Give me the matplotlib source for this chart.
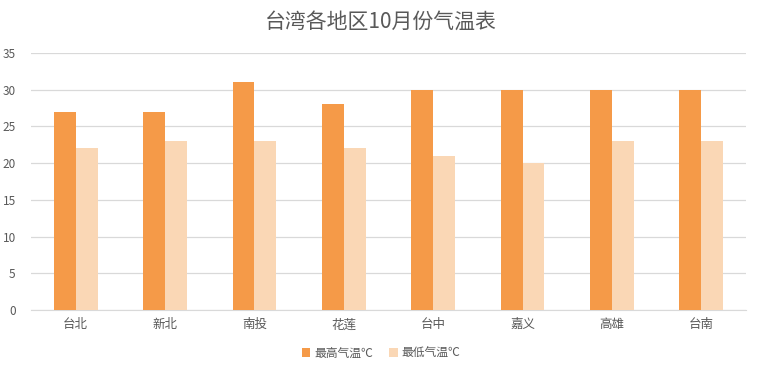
import matplotlib
matplotlib.use("Agg")
import matplotlib.pyplot as plt
import numpy as np

plt.rcParams['font.family'] = ['Noto Sans CJK SC', 'DejaVu Sans']

categories = ["台北", "新北", "南投", "花莲", "台中", "嘉义", "高雄", "台南"]
high = [27, 27, 31, 28, 30, 30, 30, 30]
low = [22, 23, 23, 22, 21, 20, 23, 23]
series_names = ["最高气温℃", "最低气温℃"]
title = "台湾各地区10月份气温表"

W, H = 762, 373
fig = plt.figure(figsize=(W/100, H/100), dpi=100)
ax = fig.add_axes([31/W, (H-310)/H, (746-31)/W, (310-53)/H])

x = np.arange(len(categories))
bw = 0.245
c1, c2 = "#F59A48", "#FAD7B5"
ax.bar(x - bw/2, high, bw, color=c1, label=series_names[0], zorder=3)
ax.bar(x + bw/2, low, bw, color=c2, label=series_names[1], zorder=3)

ax.set_xlim(-0.5, len(categories) - 0.5)
ax.set_ylim(0, 35)
ax.set_yticks(range(0, 36, 5))
ax.grid(axis='y', color='#D9D9D9', linewidth=0.9, zorder=0)
for s in ['top', 'right', 'left']:
    ax.spines[s].set_visible(False)
ax.spines['bottom'].set_color('#D9D9D9')
ax.set_xticks(x)
ax.set_xticklabels(categories)
ax.tick_params(axis='both', length=0, colors='#595959', labelsize=8.5)
ax.tick_params(axis='x', pad=6, labelsize=9)
ax.tick_params(axis='y', pad=11)

fig.text(0.5, 1 - 22/H, title, ha='center', va='center', fontsize=15, color='#595959')

leg = fig.legend(loc='center', bbox_to_anchor=(381/W, 1 - 353/H), ncol=2, frameon=False,
                 fontsize=8.5, handlelength=0.7, handleheight=0.7, handletextpad=0.3,
                 columnspacing=1.4)
for t in leg.get_texts():
    t.set_color('#595959')

fig.savefig("out.png", dpi=100)
